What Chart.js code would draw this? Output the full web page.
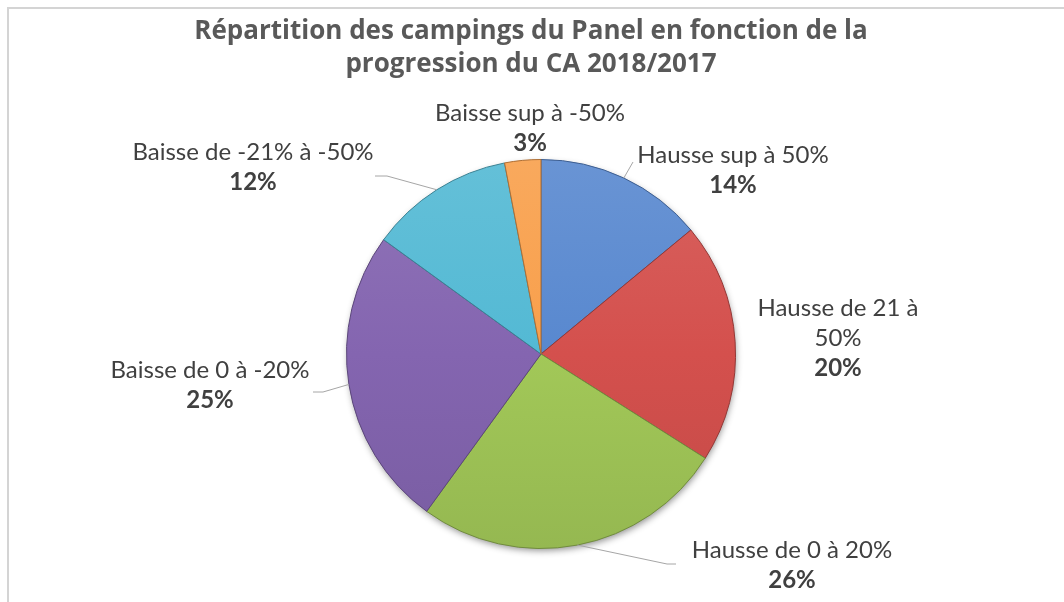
<!DOCTYPE html>
<html><head><meta charset="utf-8">
<script src="https://cdn.jsdelivr.net/npm/chart.js@4/dist/chart.umd.min.js"></script>
<style>
html,body{margin:0;padding:0;background:#fff;width:1064px;height:602px;overflow:hidden}
canvas{position:absolute;left:0;top:0}
</style></head><body>
<canvas id="c" width="1064" height="602"></canvas>
<script>
// ---- data ----
const categories = ['Hausse sup à 50%','Hausse de 21 à 50%','Hausse de 0 à 20%','Baisse de 0 à -20%','Baisse de -21% à -50%','Baisse sup à -50%'];
const values = [14, 20, 26, 25, 12, 3];
const chartTitle = ['Répartition des campings du Panel en fonction de la', 'progression du CA 2018/2017'];

// ---- styles ----
const colors = ['#5888cf', '#d4504d', '#a2c858', '#8465b0', '#53b9d4', '#f89f4b'];
const FONT = 'Lato, "Open Sans", sans-serif';
const TITLE_FONT = '"Open Sans", Lato, sans-serif';
// label placement relative to pie centre (px), wrap width, leader knee points
const labelLayout = [
  {dx: 192, dy: -184, wrap: 400, leader: [[92, -192]]},
  {dx: 297, dy: -16, wrap: 185, leader: []},
  {dx: 251, dy: 211, wrap: 400, leader: [[126, 210], [135, 210]]},
  {dx: -331, dy: 31, wrap: 400, leader: [[-218, 38], [-228, 38]]},
  {dx: -288, dy: -187, wrap: 400, leader: [[-154, -178], [-166, -178]]},
  {dx: -11, dy: -226, wrap: 400, leader: []}
];

function shade(hex, f) {
  const n = parseInt(hex.slice(1), 16);
  let r = n >> 16, g = (n >> 8) & 255, b = n & 255;
  const t = f < 0 ? 0 : 255, p = Math.abs(f);
  r = Math.round((t - r) * p + r); g = Math.round((t - g) * p + g); b = Math.round((t - b) * p + b);
  return 'rgb(' + r + ',' + g + ',' + b + ')';
}

function wrapText(ctx, text, maxW) {
  const words = text.split(' ');
  const lines = [];
  let cur = '';
  for (const w of words) {
    const test = cur ? cur + ' ' + w : w;
    if (ctx.measureText(test).width > maxW && cur) { lines.push(cur); cur = w; }
    else cur = test;
  }
  if (cur) lines.push(cur);
  return lines;
}

const decorPlugin = {
  id: 'decor',
  beforeDraw(chart) {
    const ctx = chart.ctx;
    ctx.save();
    ctx.fillStyle = '#ffffff';
    ctx.fillRect(0, 0, chart.width, chart.height);
    ctx.strokeStyle = '#d4d4d4';
    ctx.lineWidth = 2;
    ctx.beginPath();
    ctx.moveTo(8, chart.height + 5);
    ctx.lineTo(8, 8);
    ctx.lineTo(chart.width + 5, 8);
    ctx.stroke();
    // title
    ctx.fillStyle = '#595959';
    ctx.font = 'bold 26px ' + TITLE_FONT;
    ctx.textAlign = 'center';
    ctx.textBaseline = 'middle';
    chartTitle.forEach((t, i) => ctx.fillText(t, 531, 32 + i * 33));
    ctx.restore();
  },
  beforeDatasetsDraw(chart) {
    const arc = chart.getDatasetMeta(0).data[0];
    if (!arc) return;
    const ctx = chart.ctx;
    ctx.save();
    ctx.shadowColor = 'rgba(0,0,0,0.45)';
    ctx.shadowBlur = 7;
    ctx.shadowOffsetX = 1;
    ctx.shadowOffsetY = 3;
    ctx.fillStyle = '#888';
    ctx.beginPath();
    ctx.arc(arc.x, arc.y, arc.outerRadius - 1, 0, Math.PI * 2);
    ctx.fill();
    ctx.restore();
  },
  afterDatasetsDraw(chart) {
    const meta = chart.getDatasetMeta(0);
    const ctx = chart.ctx;
    const total = values.reduce((a, b) => a + b, 0);
    ctx.save();
    meta.data.forEach((arc, i) => {
      const L = labelLayout[i];
      const cx = arc.x, cy = arc.y, r = arc.outerRadius;
      const mid = (arc.startAngle + arc.endAngle) / 2;
      if (L.leader.length) {
        ctx.strokeStyle = '#a6a6a6';
        ctx.lineWidth = 1;
        ctx.beginPath();
        ctx.moveTo(cx + Math.cos(mid) * r, cy + Math.sin(mid) * r);
        L.leader.forEach(p => ctx.lineTo(cx + p[0], cy + p[1]));
        ctx.stroke();
      }
      ctx.font = '24px ' + FONT;
      const lines = wrapText(ctx, categories[i], L.wrap);
      const pct = Math.round(values[i] / total * 100) + '%';
      const lh = 30;
      const n = lines.length + 1;
      const x = cx + L.dx;
      let y = cy + L.dy - (n - 1) * lh / 2;
      ctx.fillStyle = '#404040';
      ctx.textAlign = 'center';
      ctx.textBaseline = 'middle';
      lines.forEach(t => { ctx.fillText(t, x, y); y += lh; });
      ctx.font = 'bold 24px ' + FONT;
      ctx.fillText(pct, x, y);
    });
    ctx.restore();
  }
};

new Chart(document.getElementById('c'), {
  type: 'pie',
  data: {
    labels: categories,
    datasets: [{
      data: values,
      backgroundColor: (c) => {
        const base = colors[c.dataIndex];
        const area = c.chart.chartArea;
        if (!area) return base;
        const g = c.chart.ctx.createLinearGradient(0, area.top, 0, area.bottom);
        g.addColorStop(0, shade(base, 0.1));
        g.addColorStop(0.5, base);
        g.addColorStop(1, shade(base, -0.08));
        return g;
      },
      borderColor: colors.map(c => shade(c, -0.3)),
      borderWidth: 1,
      hoverOffset: 0
    }]
  },
  options: {
    responsive: false,
    devicePixelRatio: 1,
    animation: false,
    layout: {padding: {left: 346, right: 328, top: 159, bottom: 53}},
    plugins: {legend: {display: false}, title: {display: false}, tooltip: {enabled: false}}
  },
  plugins: [decorPlugin]
});
</script>
</body></html>
